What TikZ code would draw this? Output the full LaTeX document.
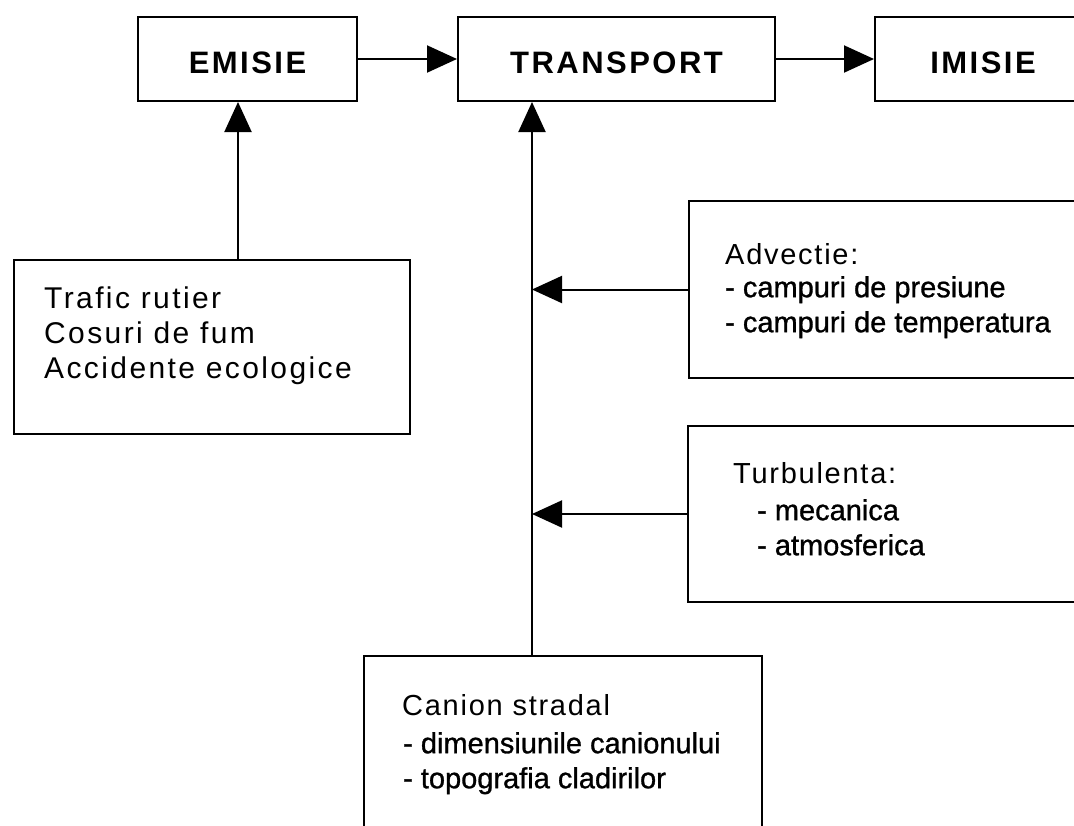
\documentclass[tikz,border=0pt]{standalone}
\usepackage{fontspec}
\setmainfont{Liberation Sans}
\newfontfamily\hdfont[LetterSpace=8]{Liberation Sans}
\newfontfamily\ttlfont[LetterSpace=6]{Liberation Sans}
\newfontfamily\lstfont[LetterSpace=8]{Liberation Sans}
\newfontfamily\subfont[FakeBold=1]{Liberation Sans}
\usetikzlibrary{positioning, arrows.meta}

\tikzset{
    box/.style={draw, line width=2pt, inner sep=0pt, minimum height=84pt},
    head/.style={box, text height=28pt, text depth=0pt, font=\hdfont\bfseries\fontsize{31}{37}\selectfont},
    txt/.style={inner sep=0pt, align=left, anchor=north west},
    ttl/.style={txt, font=\ttlfont\fontsize{29}{35}\selectfont},
    lst/.style={txt, font=\lstfont\fontsize{30}{35}\selectfont},
    sub/.style={txt, font=\subfont\fontsize{29}{35}\selectfont},
    arr/.style={line width=2pt, -{Triangle[length=30pt,width=27pt]}},
}

\begin{document}
\begin{tikzpicture}[x=1pt, y=-1pt]
    \useasboundingbox (0,0) rectangle (1074,825);

    % top row
    \node[head, minimum width=219pt, anchor=north west] (emisie) at (137,16) {EMISIE};
    \node[head, minimum width=317pt, right=99pt of emisie] (transport) {TRANSPORT};
    \node[head, minimum width=216pt, right=98pt of transport] (imisie) {IMISIE};

    % sources
    \node[box, minimum width=396pt, minimum height=174pt, anchor=north west] (src) at (13,259) {};
    \node[lst, below right=28pt and 31pt of src.north west] (srctxt) {Trafic rutier\\Cosuri de fum\\Accidente ecologice};

    % advection
    \node[box, minimum width=420pt, minimum height=177pt, anchor=north west] (adv) at (688,200) {};
    \node[ttl, below right=43pt and 37pt of adv.north west] (advttl) {Advectie:};
    \node[sub, below right=76pt and 37pt of adv.north west] (advsub) {- campuri de presiune\\- campuri de temperatura};

    % turbulence
    \node[box, minimum width=420pt, minimum height=176pt, anchor=north west] (turb) at (687,425) {};
    \node[ttl, below right=37pt and 46pt of turb.north west] (turbttl) {Turbulenta:};
    \node[sub, below right=74pt and 70pt of turb.north west] (turbsub) {- mecanica\\- atmosferica};

    % street canyon
    \node[box, minimum width=398pt, minimum height=200pt, anchor=north west] (can) at (363,655) {};
    \node[ttl, below right=39pt and 39pt of can.north west] (canttl) {Canion stradal};
    \node[sub, below right=77pt and 40pt of can.north west] (cansub) {- dimensiunile canionului\\- topografia cladirilor};

    % connectors
    \coordinate (trunk) at (532,0);
    \coordinate (srcup) at (238,0);
    \draw[arr] (emisie) -- (transport);
    \draw[arr] (transport) -- (imisie);
    \draw[arr] (src.north -| srcup) -- (srcup |- emisie.south);
    \draw[arr] (can.north -| trunk) -- (trunk |- transport.south);
    \draw[arr] (adv.west) -- (adv.west -| trunk);
    \draw[arr] (turb.west) -- (turb.west -| trunk);
\end{tikzpicture}
\end{document}
